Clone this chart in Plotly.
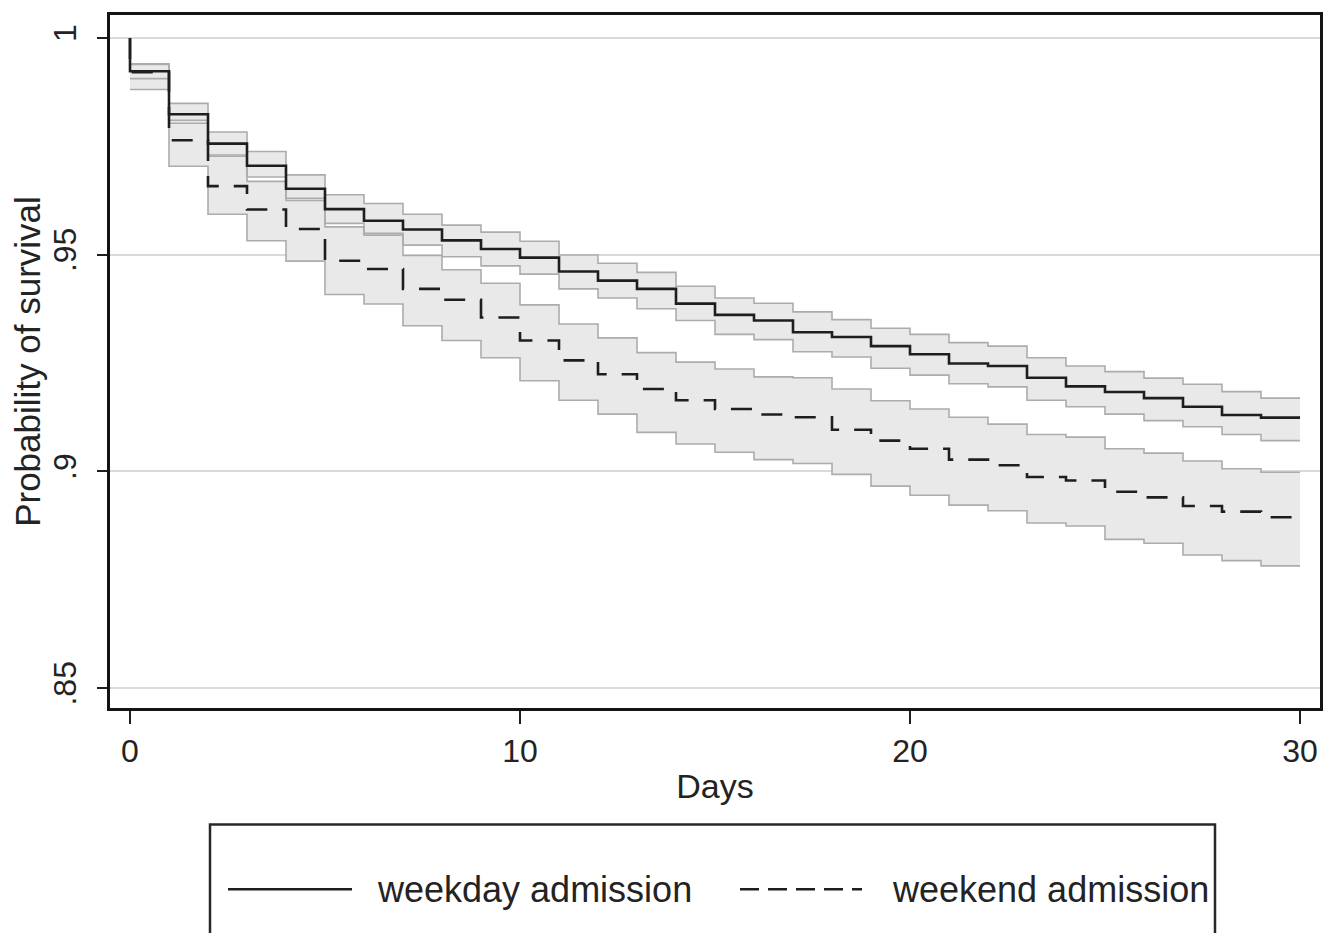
import plotly.graph_objects as go

# ---- data ----
days = list(range(0, 31))  # step boundaries 0..30

weekday_surv = [0.9923, 0.9824, 0.9756, 0.9705, 0.9652, 0.9605, 0.9578, 0.9558, 0.9533, 0.9513,
                0.9493, 0.9461, 0.9440, 0.9421, 0.9387, 0.9361, 0.9348, 0.9321, 0.9310, 0.9289,
                0.9270, 0.9249, 0.9243, 0.9216, 0.9196, 0.9183, 0.9169, 0.9149, 0.9130, 0.9124]
weekday_upper = [0.9939, 0.9849, 0.9783, 0.9738, 0.9684, 0.9638, 0.9618, 0.9593, 0.9568, 0.9552,
                 0.9531, 0.9499, 0.9480, 0.9459, 0.9427, 0.9400, 0.9388, 0.9368, 0.9350, 0.9330,
                 0.9316, 0.9297, 0.9289, 0.9262, 0.9243, 0.9230, 0.9215, 0.9201, 0.9184, 0.9169]
weekday_lower = [0.9906, 0.9803, 0.9730, 0.9679, 0.9625, 0.9572, 0.9549, 0.9522, 0.9495, 0.9474,
                 0.9455, 0.9421, 0.9400, 0.9375, 0.9348, 0.9316, 0.9304, 0.9276, 0.9264, 0.9238,
                 0.9222, 0.9202, 0.9195, 0.9164, 0.9149, 0.9132, 0.9117, 0.9103, 0.9085, 0.9071]

weekend_surv = [0.9921, 0.9764, 0.9658, 0.9604, 0.9559, 0.9486, 0.9467, 0.9421, 0.9396, 0.9355,
                0.9302, 0.9256, 0.9224, 0.9190, 0.9164, 0.9144, 0.9131, 0.9125, 0.9096, 0.9071,
                0.9052, 0.9027, 0.9014, 0.8987, 0.8979, 0.8953, 0.8940, 0.8920, 0.8907, 0.8894]
weekend_upper = [0.9940, 0.9810, 0.9727, 0.9669, 0.9630, 0.9564, 0.9545, 0.9498, 0.9465, 0.9434,
                 0.9384, 0.9340, 0.9308, 0.9274, 0.9252, 0.9236, 0.9218, 0.9216, 0.9190, 0.9163,
                 0.9144, 0.9125, 0.9109, 0.9085, 0.9079, 0.9052, 0.9042, 0.9024, 0.9006, 0.8998]
weekend_lower = [0.9881, 0.9704, 0.9593, 0.9532, 0.9485, 0.9408, 0.9386, 0.9336, 0.9302, 0.9262,
                 0.9209, 0.9164, 0.9132, 0.9090, 0.9063, 0.9044, 0.9027, 0.9018, 0.8993, 0.8966,
                 0.8945, 0.8922, 0.8909, 0.8881, 0.8874, 0.8843, 0.8834, 0.8807, 0.8794, 0.8782]

y_ticks = [0.85, 0.90, 0.95, 1.0]
y_ticklabels = [".85", ".9", ".95", "1"]
x_ticks = [0, 10, 20, 30]
x_ticklabels = ["0", "10", "20", "30"]

series_names = ["weekday admission", "weekend admission"]

FONT = "Liberation Sans, Arial, sans-serif"
FILL = "rgb(233,233,233)"
EDGE = "rgb(172,172,172)"
LINEC = "rgb(30,30,30)"
TEXTC = "rgb(35,35,35)"


def band_xy(vals):
    # step values on [d, d+1), last value carried to day 30
    return days, list(vals) + [vals[-1]]


def curve_xy(vals):
    return [0] + days, [1.0] + list(vals) + [vals[-1]]


fig = go.Figure()

# fills (opaque)
for lo, up in [(weekend_lower, weekend_upper), (weekday_lower, weekday_upper)]:
    x, yl = band_xy(lo)
    _, yu = band_xy(up)
    fig.add_trace(go.Scatter(x=x, y=yl, mode="lines", line=dict(width=0, shape="hv"),
                             hoverinfo="skip", showlegend=False))
    fig.add_trace(go.Scatter(x=x, y=yu, mode="lines", line=dict(width=0, shape="hv"),
                             fill="tonexty", fillcolor=FILL, hoverinfo="skip", showlegend=False))

# band outlines
for vals in [weekend_lower, weekend_upper, weekday_lower, weekday_upper]:
    x, y = band_xy(vals)
    fig.add_trace(go.Scatter(x=x, y=y, mode="lines", line=dict(width=1.6, color=EDGE, shape="hv"),
                             hoverinfo="skip", showlegend=False))

# survival curves
x, y = curve_xy(weekday_surv)
fig.add_trace(go.Scatter(x=x, y=y, mode="lines", name=series_names[0],
                         line=dict(width=2.6, color=LINEC, shape="hv"), showlegend=False))
x, y = curve_xy(weekend_surv)
fig.add_trace(go.Scatter(x=x, y=y, mode="lines", name=series_names[1],
                         line=dict(width=2.6, color=LINEC, shape="hv", dash="21px,15px"),
                         showlegend=False))

# page body has an 8px margin: work in screen pixels and subtract it
OFF = 8
W, H = 1337 - OFF, 933 - OFF
L, R, T, B = 110 - OFF, 1320 - OFF, 12 - OFF, 708 - OFF


def px_x(px):
    return (px - OFF - L) / (R - L)


def px_y(py):
    return (B - (py - OFF)) / (B - T)


shapes = [
    dict(type="rect", xref="paper", yref="paper", x0=px_x(210), x1=px_x(1215),
         y0=px_y(825), y1=px_y(960), line=dict(color="rgb(40,40,40)", width=2.5), fillcolor="white",
         layer="above"),
    dict(type="line", xref="paper", yref="paper", x0=px_x(228), x1=px_x(352),
         y0=px_y(890), y1=px_y(890), line=dict(color=LINEC, width=2.6)),
    dict(type="line", xref="paper", yref="paper", x0=px_x(740), x1=px_x(862),
         y0=px_y(890), y1=px_y(890), line=dict(color=LINEC, width=2.6, dash="19px,9px")),
]
annotations = [
    dict(xref="paper", yref="paper", x=px_x(375), y=px_y(890), text=series_names[0],
         showarrow=False, xanchor="left", yanchor="middle",
         font=dict(family=FONT, size=36, color=TEXTC)),
    dict(xref="paper", yref="paper", x=px_x(890), y=px_y(890), text=series_names[1],
         showarrow=False, xanchor="left", yanchor="middle",
         font=dict(family=FONT, size=36, color=TEXTC)),
]

fig.update_layout(
    width=W, height=H,
    margin=dict(l=L, r=W - R, t=T, b=H - B),
    paper_bgcolor="white", plot_bgcolor="white",
    font=dict(family=FONT, size=31, color=TEXTC),
    shapes=shapes, annotations=annotations,
    showlegend=False,
)

fig.update_xaxes(
    range=[-20 / 39, 30 + 20 / 39], tickmode="array", tickvals=x_ticks, ticktext=x_ticklabels,
    ticks="outside", ticklen=13, tickwidth=2, tickcolor="rgb(30,30,30)",
    showgrid=False, zeroline=False,
    showline=True, linewidth=3, linecolor="rgb(20,20,20)", mirror=True,
    title=dict(text="Days", standoff=6, font=dict(size=34)),
    tickfont=dict(size=32),
)
fig.update_yaxes(
    range=[0.85 - 20 / 4353, 1 + 23 / 4353], tickmode="array", tickvals=y_ticks, ticktext=y_ticklabels,
    tickangle=-90, ticks="outside", ticklen=10, tickwidth=2, tickcolor="rgb(30,30,30)",
    showgrid=True, gridcolor="rgb(218,218,218)", gridwidth=1.5, zeroline=False,
    showline=True, linewidth=3, linecolor="rgb(20,20,20)", mirror=True,
    title=dict(text="Probability of survival", standoff=10, font=dict(size=35)),
    tickfont=dict(size=32),
    ticklabelstandoff=8,
)

fig.write_html("out.html")
